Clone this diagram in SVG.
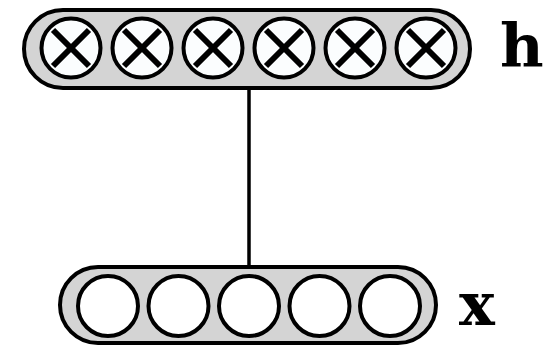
<svg xmlns="http://www.w3.org/2000/svg" width="553" height="347" viewBox="0 0 553 347">
<style>
.bar{fill:#d4d4d4;stroke:#000;stroke-width:4}
.u{fill:#fbfdfe;stroke:#000;stroke-width:4}
.v{fill:#fff;stroke:#000;stroke-width:4}
.xm{stroke:#000;stroke-width:6;stroke-linecap:butt}
.lbl{font-family:"DejaVu Serif",serif;font-weight:bold;font-size:60px;fill:#000}
.edge{stroke:#000;stroke-width:3.5;fill:none}
</style>
<defs>
<g id="mul">
<circle class="u" cx="0" cy="0" r="29.5"/>
<line class="xm" x1="-18" y1="-18" x2="18" y2="18"/>
<line class="xm" x1="-18" y1="18" x2="18" y2="-18"/>
</g>
</defs>
<g id="connectors">
<line class="edge" x1="249" y1="88" x2="249" y2="267"/>
</g>
<g id="h">
<rect class="bar" x="24" y="10" width="446" height="78" rx="39"/>
<use href="#mul" x="71" y="48"/>
<use href="#mul" x="142" y="48"/>
<use href="#mul" x="213" y="48"/>
<use href="#mul" x="284" y="48"/>
<use href="#mul" x="355" y="48"/>
<use href="#mul" x="426" y="48"/>
<text class="lbl" x="500" y="67">h</text>
</g>
<g id="x">
<rect class="bar" x="60" y="267" width="376" height="76" rx="38"/>
<circle class="v" cx="108" cy="306" r="30"/>
<circle class="v" cx="178.5" cy="306" r="30"/>
<circle class="v" cx="249" cy="306" r="30"/>
<circle class="v" cx="319.5" cy="306" r="30"/>
<circle class="v" cx="390" cy="306" r="30"/>
<text class="lbl" x="459" y="325">x</text>
</g>
</svg>
